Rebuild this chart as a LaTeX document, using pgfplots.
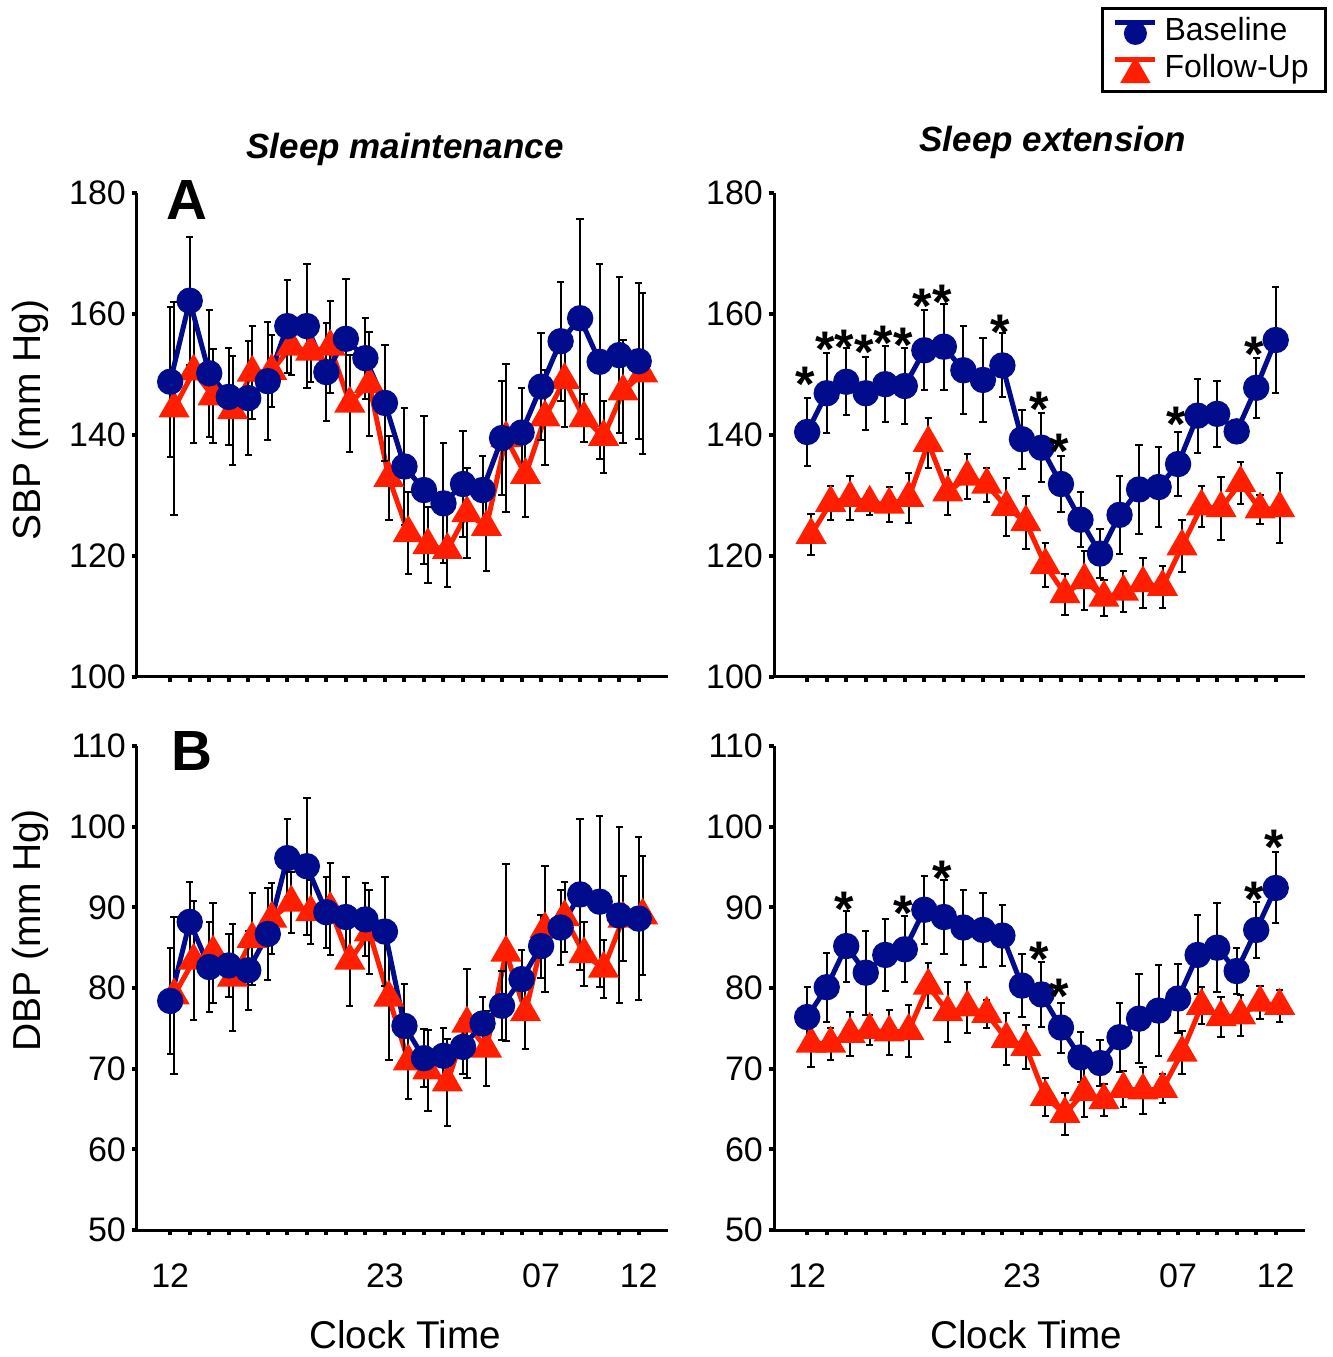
\documentclass[border=0pt]{standalone}
\usepackage{fontspec}
\setmainfont{Liberation Sans}
\usepackage{pgfplots}
\pgfplotsset{compat=1.18}
\usepackage{pgfplotstable}

\definecolor{basecol}{RGB}{0,12,140}
\definecolor{follcol}{RGB}{255,30,0}

% x: hour index (0 = 12:00 ... 24 = 12:00 next day)
% b/be: baseline mean and error, f/fe: follow-up mean and error
\pgfplotstableread{
x b be f fe
0 148.8 12.4 144.4 17.6
1 162.2 10.6 150.5 11.8
2 150.2 10.5 146.4 7.8
3 146.3 8.0 144.1 9.0
4 146.1 9.4 150.3 7.7
5 148.9 9.8 150.6 5.9
6 158.0 7.7 154.6 4.7
7 158.0 10.2 153.8 5.0
8 150.4 8.1 154.6 7.6
9 155.9 9.9 145.2 8.0
10 152.7 6.7 148.4 8.6
11 145.3 9.6 132.9 7.0
12 134.8 9.6 123.8 6.8
13 130.9 12.2 121.8 6.3
14 128.7 9.9 121.0 6.2
15 131.9 8.8 127.1 7.4
16 130.9 5.6 124.8 7.2
17 139.5 9.4 139.5 12.2
18 140.4 7.3 133.4 6.9
19 148.0 8.9 142.9 7.9
20 155.5 9.8 149.1 7.7
21 159.3 16.4 142.8 4.0
22 152.1 16.1 139.7 6.0
23 153.2 12.9 147.2 8.5
24 152.2 12.9 150.2 13.3
}\sbpmaint

\pgfplotstableread{
x b be f fe
0 140.5 5.6 123.5 3.4
1 146.9 6.6 128.8 2.8
2 148.8 5.5 129.6 3.7
3 146.9 6.0 128.8 2.0
4 148.4 6.3 128.5 2.9
5 148.1 6.3 129.6 4.2
6 154.0 6.6 138.7 4.1
7 154.6 7.1 130.5 3.7
8 150.7 7.3 133.1 3.7
9 149.1 6.9 131.8 2.8
10 151.5 5.3 128.1 4.8
11 139.3 4.9 125.6 4.4
12 137.9 5.7 118.5 3.6
13 131.9 4.6 113.7 3.4
14 126.0 4.5 116.0 4.9
15 120.4 4.0 113.1 3.0
16 126.8 6.4 114.1 3.4
17 131.0 7.3 115.5 4.1
18 131.4 6.6 114.9 3.5
19 135.2 5.3 121.6 4.3
20 143.2 6.1 128.2 3.4
21 143.5 5.5 127.9 5.2
22 140.6 1.8 132.1 3.5
23 147.8 5.0 127.7 2.4
24 155.7 8.7 127.9 5.8
}\sbpext

\pgfplotstableread{
x y
0 148.3
1 154.1
2 154.5
3 153.6
4 155.2
5 154.9
6 161.3
7 161.9
10 156.9
12 144.2
13 137.3
19 141.7
23 153.3
}\sbpstars

\pgfplotstableread{
x b be f fe
0 78.4 6.6 79.1 9.7
1 88.2 4.9 83.4 7.4
2 82.6 5.6 84.4 6.2
3 82.8 3.9 81.3 6.6
4 82.2 4.9 86.1 5.7
5 86.7 5.7 88.6 4.4
6 96.1 4.8 90.6 3.8
7 95.1 8.5 89.4 4.0
8 89.4 4.4 89.8 5.7
9 88.8 5.0 83.4 5.6
10 88.5 4.5 86.9 5.2
11 87.0 6.7 78.8 7.7
12 75.3 5.2 70.9 4.7
13 71.3 3.6 69.8 5.0
14 71.6 3.5 68.3 5.4
15 72.7 3.4 75.6 6.7
16 75.6 3.3 72.5 4.7
17 77.8 4.3 84.4 11.0
18 81.1 3.6 77.0 4.5
19 85.2 3.9 87.3 7.8
20 87.5 4.7 88.8 4.3
21 91.6 9.4 84.2 4.0
22 90.7 10.6 82.4 3.6
23 89.0 10.9 88.6 5.3
24 88.6 10.1 89.0 7.4
}\dbpmaint

\pgfplotstableread{
x b be f fe
0 76.4 3.7 73.1 2.9
1 80.1 4.3 73.1 2.0
2 85.2 4.4 74.3 2.7
3 81.9 5.2 74.8 1.9
4 84.1 4.5 74.5 2.8
5 84.8 4.1 74.7 3.2
6 89.7 4.2 80.3 2.8
7 88.8 4.6 77.0 3.7
8 87.5 4.7 77.6 3.2
9 87.2 4.6 76.8 1.7
10 86.5 3.8 73.7 3.2
11 80.3 3.9 72.7 2.7
12 79.2 4.0 66.5 2.4
13 75.1 3.1 64.4 2.6
14 71.4 3.1 67.1 3.1
15 70.7 2.8 66.1 2.0
16 73.9 4.3 67.5 2.2
17 76.2 5.5 67.3 2.9
18 77.2 5.6 67.5 1.8
19 78.7 4.3 72.0 2.7
20 84.1 4.9 77.8 2.3
21 85.0 5.5 76.4 2.5
22 82.1 2.8 76.6 2.5
23 87.2 3.5 78.2 2.0
24 92.4 4.4 77.8 2.0
}\dbpext

\pgfplotstableread{
x y
2 89.7
5 89.3
7 93.6
12 83.5
13 79.0
23 91.0
24 97.4
}\dbpstars

\pgfplotsset{
  panel/.style={
    scale only axis, width=159.3pt, height=145.2pt,
    axis x line*=bottom, axis y line*=left,
    xmin=-1.7, xmax=25.5,
    xtick={0,...,24},
    tick align=outside,
    major tick length=1.6pt,
    tick style={black, line width=1.2pt},
    axis line style={black, line width=0.9pt},
    clip=false,
    tick label style={font=\fontsize{10.2}{12}\selectfont},
    /pgf/number format/assume math mode=true,
    ylabel style={font=\fontsize{11.7}{14}\selectfont, anchor=center},
    xlabel style={font=\fontsize{11.6}{14}\selectfont, anchor=center,
      at={(axis description cs:0.505,-0.217)}},
    title style={font=\bfseries\itshape\fontsize{10.5}{12}\selectfont, anchor=center, yshift=-6pt},
    xticklabel style={yshift=-5pt},
    yticklabel style={xshift=1.8pt},
  },
  hourlabels/.style={xticklabels={12,{},{},{},{},{},{},{},{},{},{},23,{},{},{},{},{},{},{},07,{},{},{},{},12}},
  errs/.style={error bars/.cd, y dir=both, y explicit,
    error bar style={black, line width=0.6pt},
    error mark options={rotate=90, mark size=1.1pt, black, line width=0.6pt}},
  basepl/.style={forget plot, basecol, line width=1.5pt, mark=*, mark size=3.2pt,
    mark options={solid, fill=basecol, draw=basecol}, errs},
  follpl/.style={forget plot, follcol, line width=1.5pt, mark=triangle*, mark size=3.9pt,
    mark options={solid, fill=follcol, draw=follcol}, errs},
  starpl/.style={forget plot, black, only marks, mark=text, text mark={*}, text mark as node=true,
    text mark style={font=\bfseries\fontsize{15}{15}\selectfont, inner sep=0pt}},
}

\begin{document}
\begin{tikzpicture}
\useasboundingbox (0,0) rectangle (399.6pt,407.1pt);

% ---- A, sleep maintenance
\begin{axis}[panel, at={(41.1pt,204pt)}, anchor=south west,
  ymin=100, ymax=180, ytick={100,120,...,180}, xticklabels={},
  ylabel={SBP (mm Hg)}, ylabel style={at={(axis description cs:-0.2015,0.531)}},
  title={Sleep maintenance}, title style={at={(axis description cs:0.505,1.09)}}]
  \addplot[follpl] table[x expr=\thisrow{x}+0.2, y=f, y error=fe] {\sbpmaint};
  \addplot[basepl] table[x=x, y=b, y error=be] {\sbpmaint};
  \node[font=\bfseries\fontsize{17}{17}\selectfont] at (rel axis cs:0.094,0.986) {A};
\end{axis}

% ---- A, sleep extension
\begin{axis}[panel, at={(232.2pt,204pt)}, anchor=south west,
  ymin=100, ymax=180, ytick={100,120,...,180}, xticklabels={},
  title={Sleep extension}, title style={at={(axis description cs:0.525,1.105)}},
  legend style={at={(1.041,1.384)}, anchor=north east, draw=black, line width=0.9pt,
    font=\fontsize{9.6}{11}\selectfont, inner xsep=3pt, inner ysep=0.6pt, row sep=-1.4pt,
    cells={anchor=west}}]
  \addlegendimage{legend image code/.code={
    \draw[basecol, line width=1.5pt] (0pt,2.6pt) -- (12pt,2.6pt);
    \fill[basecol] (6pt,-0.6pt) circle (3pt);}}
  \addlegendentry{Baseline}
  \addlegendimage{legend image code/.code={
    \draw[follcol, line width=1.5pt] (0pt,2.6pt) -- (12pt,2.6pt);
    \fill[follcol] (2.2pt,-4pt) -- (9.8pt,-4pt) -- (6pt,2.6pt) -- cycle;}}
  \addlegendentry{Follow-Up}
  \addplot[follpl] table[x expr=\thisrow{x}+0.2, y=f, y error=fe] {\sbpext};
  \addplot[basepl] table[x=x, y=b, y error=be] {\sbpext};
  \addplot[starpl] table[x expr=\thisrow{x}-0.1, y=y] {\sbpstars};
\end{axis}

% ---- B, sleep maintenance
\begin{axis}[panel, at={(41.1pt,38.1pt)}, anchor=south west,
  ymin=50, ymax=110, ytick={50,60,...,110}, hourlabels,
  ylabel={DBP (mm Hg)}, ylabel style={at={(axis description cs:-0.2015,0.619)}},
  xlabel={Clock Time}]
  \addplot[follpl] table[x expr=\thisrow{x}+0.2, y=f, y error=fe] {\dbpmaint};
  \addplot[basepl] table[x=x, y=b, y error=be] {\dbpmaint};
  \node[font=\bfseries\fontsize{17}{17}\selectfont] at (rel axis cs:0.104,0.99) {B};
\end{axis}

% ---- B, sleep extension
\begin{axis}[panel, at={(232.2pt,38.1pt)}, anchor=south west,
  ymin=50, ymax=110, ytick={50,60,...,110}, hourlabels,
  xlabel={Clock Time}, xlabel style={at={(axis description cs:0.475,-0.217)}}]
  \addplot[follpl] table[x expr=\thisrow{x}+0.2, y=f, y error=fe] {\dbpext};
  \addplot[basepl] table[x=x, y=b, y error=be] {\dbpext};
  \addplot[starpl] table[x expr=\thisrow{x}-0.1, y=y] {\dbpstars};
\end{axis}
\end{tikzpicture}
\end{document}
